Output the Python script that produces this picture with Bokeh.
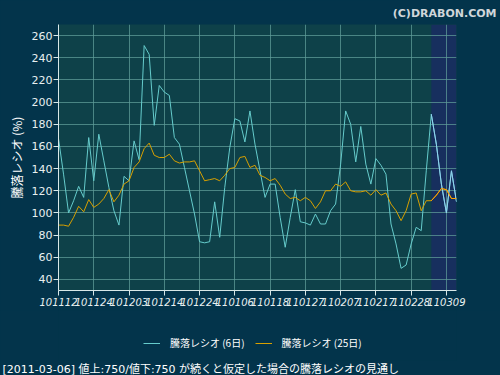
from bokeh.plotting import figure
from bokeh.layouts import column
from bokeh.models import (Range1d, FixedTicker, BoxAnnotation, Legend,
                          LegendItem, ColumnDataSource, Title)
from bokeh.embed import file_html
from bokeh.resources import INLINE

# trading days (YYMMDD)
dates = [
    "101112", "101115", "101116", "101117", "101118", "101119", "101122", "101124",
    "101125", "101126", "101129", "101130", "101201", "101202", "101203", "101206",
    "101207", "101208", "101209", "101210", "101213", "101214", "101215", "101216",
    "101217", "101220", "101221", "101222", "101224", "101227", "101228", "101229",
    "101230", "110104", "110105", "110106", "110107", "110111", "110112", "110113",
    "110114", "110117", "110118", "110119", "110120", "110121", "110124", "110125",
    "110126", "110127", "110128", "110131", "110201", "110202", "110203", "110204",
    "110207", "110208", "110209", "110210", "110214", "110215", "110216", "110217",
    "110218", "110221", "110222", "110223", "110224", "110225", "110228", "110301",
    "110302", "110303", "110304", "110307", "110308", "110309", "110310", "110311",
]

# 騰落レシオ (6日)
ratio6 = [167, 135, 100, 111, 124, 114, 168, 129, 171, 147,
          123, 102, 89, 133, 129, 165, 148, 251, 243, 179,
          215, 209, 206, 168, 162, 141, 120, 99, 74, 73,
          74, 110, 78, 123, 159, 185, 183, 164, 192, 162,
          138, 114, 126, 126, 96, 69, 96, 121, 92, 91,
          89, 99, 90, 90, 102, 108, 144, 192, 180, 146,
          178, 144, 126, 149, 143, 135, 90, 72, 50, 53,
          72, 87, 84, 138, 189, 162, 126, 100, 138, 110]

# 騰落レシオ (25日)
ratio25 = [89, 89, 88, 96, 106, 101, 112, 105, 108, 113,
           121, 110, 116, 126, 129, 141, 146, 158, 163, 152,
           150, 150, 153, 147, 145, 146, 146, 147, 138, 129,
           130, 131, 129, 134, 140, 141, 150, 151, 141, 143,
           134, 132, 129, 131, 125, 117, 113, 114, 111, 114,
           111, 104, 110, 120, 120, 126, 124, 128, 120, 119,
           119, 120, 116, 121, 116, 118, 108, 102, 93, 102,
           117, 118, 102, 111, 111, 116, 122, 121, 113, 113]

last_actual = "110304"
y_ticks = [40, 60, 80, 100, 120, 140, 160, 180, 200, 220, 240, 260]
label6 = "騰落レシオ (6日)"
label25 = "騰落レシオ (25日)"
note = "[2011-03-06] 値上:750/値下:750 が続くと仮定した場合の騰落レシオの見通し"
copyright_text = "(C)DRABON.COM"

BG = "#03344b"
C6, C25 = "#66cccc", "#d8a000"
CJK = "Noto Sans CJK JP"

idx = list(range(len(dates)))
split = dates.index(last_actual)

# ---------------- main chart ----------------
p = figure(width=500, height=310, output_backend="svg", toolbar_location=None,
           x_range=Range1d(0, len(dates) - 1), y_range=Range1d(30, 270),
           min_border_left=58, min_border_right=44, min_border_top=24,
           min_border_bottom=20)

p.border_fill_color = BG
p.background_fill_color = "#0e4149"
p.outline_line_color = None

shade = BoxAnnotation(left=split, fill_color="#172f5e", fill_alpha=1.0,
                      line_color=None, level="underlay")
p.center = [shade] + list(p.center)

for g in (p.xgrid, p.ygrid):
    g.grid_line_color = "#5f9c98"
    g.grid_line_alpha = 0.75

p.xaxis.ticker = FixedTicker(ticks=idx[::7])
p.xaxis.major_label_overrides = {i: dates[i] for i in idx[::7]}
p.yaxis.ticker = FixedTicker(ticks=y_ticks)

for ax in (p.xaxis, p.yaxis):
    ax.axis_line_color = "#d8e8e8"
    ax.major_tick_line_color = "#d8e8e8"
    ax.minor_tick_line_color = None
    ax.major_label_text_color = "#e8f0f0"
    ax.major_label_text_font = "DejaVu Sans"
    ax.major_tick_out = 5
    ax.major_tick_in = 0

p.yaxis.major_label_text_font_size = "11px"
p.yaxis.major_label_standoff = 1
p.xaxis.major_label_text_font_size = "10px"
p.xaxis.major_label_text_font_style = "italic"
p.xaxis.major_label_standoff = 2

p.yaxis.axis_label = "騰落レシオ (%)"
p.yaxis.axis_label_text_color = "#ffffff"
p.yaxis.axis_label_text_font = CJK
p.yaxis.axis_label_text_font_size = "12px"
p.yaxis.axis_label_text_font_style = "normal"
p.yaxis.axis_label_standoff = 4

src = ColumnDataSource(dict(x=idx, r6=ratio6, r25=ratio25))
fsrc = ColumnDataSource(dict(x=idx[split:], r6=ratio6[split:], r25=ratio25[split:]))

p.line("x", "r6", source=src, line_color=C6, line_width=1)
p.line("x", "r25", source=src, line_color=C25, line_width=1)
p.line("x", "r6", source=fsrc, line_color="#92d2f0", line_width=1)
p.line("x", "r25", source=fsrc, line_color="#ffa200", line_width=1)

p.add_layout(Title(text=copyright_text, align="right", offset=-40, standoff=9,
                   text_color="#d0d6da", text_font="DejaVu Sans",
                   text_font_size="11px", text_font_style="bold"), "above")

# ---------------- legend + note strip ----------------
# the strip's y range lies far below the data, so the series lines drawn here
# stay out of view and only serve as the legend's glyph sources
q = figure(width=500, height=65, output_backend="svg", toolbar_location=None,
           x_range=Range1d(0, len(dates) - 1), y_range=Range1d(-2, -1),
           x_axis_location=None, y_axis_location=None,
           min_border_left=0, min_border_right=0, min_border_top=0,
           min_border_bottom=0)
q.border_fill_color = BG
q.background_fill_color = BG
q.outline_line_color = None
q.xgrid.visible = False
q.ygrid.visible = False

k6 = q.line("x", "r6", source=src, line_color=C6, line_width=1)
k25 = q.line("x", "r25", source=src, line_color=C25, line_width=1)

legend = Legend(items=[LegendItem(label=label6, renderers=[k6]),
                       LegendItem(label=label25, renderers=[k25])],
                orientation="horizontal", location=(85, 10),
                background_fill_alpha=0, border_line_color=None,
                label_text_color="#ffffff", label_text_font=CJK,
                label_text_font_size="10px", glyph_width=17, glyph_height=12,
                label_height=12, label_standoff=10, spacing=10, padding=0,
                margin=0)
q.add_layout(legend)

q.add_layout(Title(text=note, align="left", offset=-56, standoff=0,
                   text_color="#ffffff", text_font="DejaVu Sans, Noto Sans CJK JP",
                   text_font_size="11px", text_font_style="normal"), "below")

layout = column(p, q, styles={"background-color": BG})
open("out.html", "w").write(file_html(layout, INLINE))
